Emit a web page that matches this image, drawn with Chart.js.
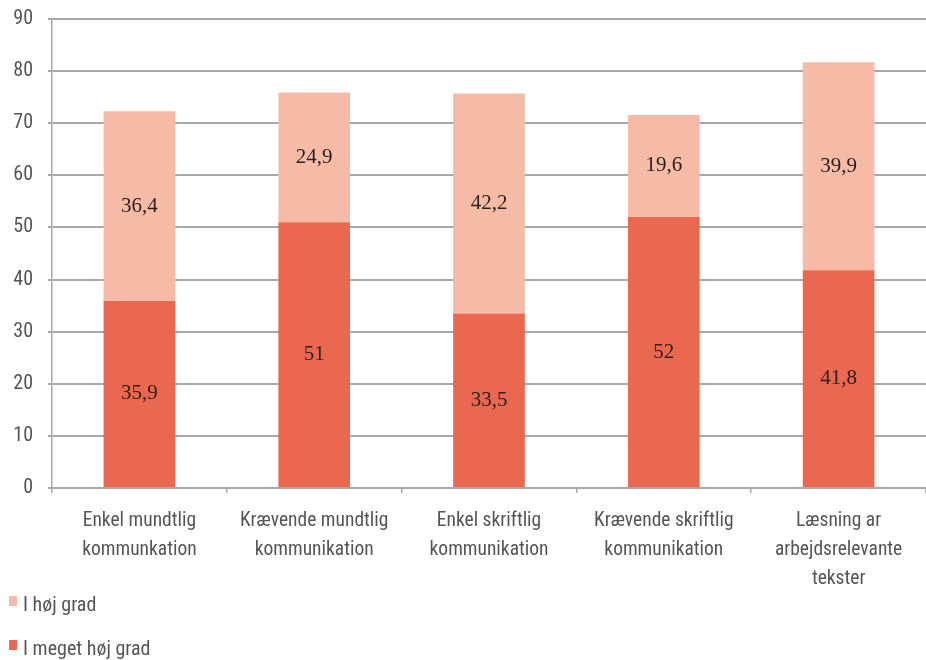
<!DOCTYPE html>
<html>
<head>
<meta charset="utf-8">
<script src="https://cdn.jsdelivr.net/npm/chart.js@4.4.0/dist/chart.umd.min.js"></script>
<style>
    html, body { margin: 0; padding: 0; background: #fff; }
    #wrap { position: relative; width: 926px; height: 660px; }
    #chartBox { position: absolute; left: 0; top: 0; width: 926px; height: 600px; }
    .legend-item {
        position: absolute; left: 9px; height: 22px; line-height: 22px;
        font-family: 'Roboto Condensed', 'Liberation Sans Narrow', 'DejaVu Sans Condensed', sans-serif;
        font-size: 20px; color: #555;
    }
    .legend-item span.box {
        display: inline-block; width: 8px; height: 10px; margin-right: 6px; vertical-align: 5px;
    }
</style>
</head>
<body>
<div id="wrap">
    <div id="chartBox"><canvas id="grad"></canvas></div>
    <div id="legend"></div>
</div>
<script>
const categories = [
    ['Enkel mundtlig', 'kommunkation'],
    ['Krævende mundtlig', 'kommunikation'],
    ['Enkel skriftlig', 'kommunikation'],
    ['Krævende skriftlig', 'kommunikation'],
    ['Læsning ar', 'arbejdsrelevante', 'tekster']
];
const megetHoj = [35.9, 51, 33.5, 52, 41.8];
const hoj = [36.4, 24.9, 42.2, 19.6, 39.9];
const yTicks = [0, 10, 20, 30, 40, 50, 60, 70, 80, 90];

const darkRed = '#ea6850';
const lightRed = '#f5bba7';
const gridGray = '#a8a8a8';
const narrowFont = "'Roboto Condensed', 'Liberation Sans Narrow', 'DejaVu Sans Condensed', sans-serif";

// writes each segment's value in the middle of its bar piece
const segmentLabels = {
    id: 'segmentLabels',
    afterDatasetsDraw(chart) {
        const ctx = chart.ctx;
        ctx.save();
        ctx.font = '21px "Liberation Serif", "Times New Roman", serif';
        ctx.fillStyle = '#2e201e';
        ctx.textAlign = 'center';
        ctx.textBaseline = 'middle';
        chart.data.datasets.forEach((ds, i) => {
            chart.getDatasetMeta(i).data.forEach((bar, j) => {
                const txt = String(ds.data[j]).replace('.', ',');
                ctx.fillText(txt, bar.x, (bar.y + bar.base) / 2);
            });
        });
        ctx.restore();
    }
};

const chart = new Chart(document.getElementById('grad'), {
    type: 'bar',
    data: {
        labels: categories,
        datasets: [
            { label: 'I meget høj grad', data: megetHoj, backgroundColor: darkRed },
            { label: 'I høj grad', data: hoj, backgroundColor: lightRed }
        ]
    },
    options: {
        responsive: true,
        maintainAspectRatio: false,
        animation: false,
        layout: { padding: { top: 19, left: 0, right: 0, bottom: 0 } },
        datasets: { bar: { barPercentage: 0.41, categoryPercentage: 1 } },
        plugins: { legend: { display: false }, tooltip: { enabled: false } },
        scales: {
            x: {
                stacked: true,
                afterFit(scale) { scale.height = 112; },
                grid: { drawOnChartArea: false, drawTicks: true, tickLength: 5, color: gridGray, lineWidth: 1.5 },
                border: { color: gridGray, width: 2 },
                ticks: {
                    color: '#555',
                    padding: 13,
                    maxRotation: 0,
                    autoSkip: false,
                    font: { family: narrowFont, size: 19.5, lineHeight: 1.5 }
                }
            },
            y: {
                stacked: true,
                min: yTicks[0],
                max: yTicks[yTicks.length - 1],
                afterFit(scale) {
                    scale.width = 52;
                    // the top label fits inside the layout padding
                    scale.paddingTop = 0;
                    scale.paddingBottom = 0;
                },
                afterBuildTicks(scale) { scale.ticks = yTicks.map(v => ({ value: v })); },
                grid: { color: gridGray, lineWidth: 2, tickLength: 4 },
                border: { color: gridGray, width: 1.5 },
                ticks: {
                    color: '#555',
                    padding: 15,
                    font: { family: narrowFont, size: 20 }
                }
            }
        }
    },
    plugins: [segmentLabels]
});

// legend listed top-down, light first
const legend = document.getElementById('legend');
[[hoj, 'I høj grad', lightRed, 593], [megetHoj, 'I meget høj grad', darkRed, 637]].forEach(item => {
    const div = document.createElement('div');
    div.className = 'legend-item';
    div.style.top = item[3] + 'px';
    div.innerHTML = '<span class="box" style="background:' + item[2] + '"></span>' + item[1];
    legend.appendChild(div);
});
</script>
</body>
</html>
